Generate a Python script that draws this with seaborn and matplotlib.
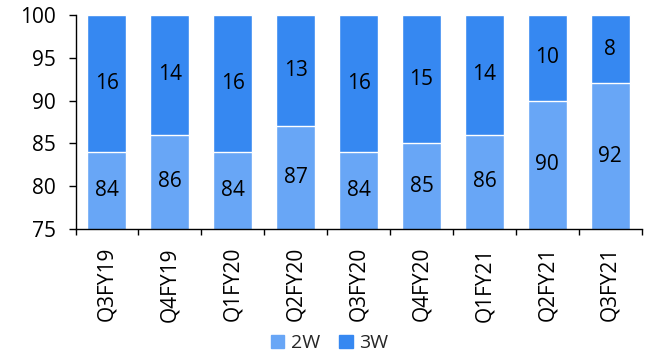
import matplotlib
matplotlib.use("Agg")
import matplotlib.pyplot as plt
from matplotlib.patches import Patch
from matplotlib.ticker import FixedLocator
import numpy as np
import pandas as pd
import seaborn as sns

quarters = ["Q3FY19", "Q4FY19", "Q1FY20", "Q2FY20", "Q3FY20",
            "Q4FY20", "Q1FY21", "Q2FY21", "Q3FY21"]
share_2w = [84, 86, 84, 87, 84, 85, 86, 90, 92]
share_3w = [16, 14, 16, 13, 16, 15, 14, 10, 8]

color_2w = "#68A6F6"
color_3w = "#3688F1"

sns.set_theme(style="white")
plt.rcParams["font.family"] = ["Open Sans", "DejaVu Sans"]

df = pd.DataFrame({"quarter": quarters, "2W": share_2w, "3W": share_3w})
df["total"] = df["2W"] + df["3W"]

fig = plt.figure(figsize=(6.49, 3.58), dpi=100)
ax = fig.add_axes([0.1164, 0.3603, 0.8723, 0.5978])

# stacked bars: full height in 3W colour, 2W segment drawn over it
sns.barplot(data=df, x="quarter", y="total", color=color_3w, width=0.62,
            saturation=1, ax=ax)
sns.barplot(data=df, x="quarter", y="2W", color=color_2w, width=0.62,
            saturation=1, ax=ax)

ymin, ymax = 75, 100
ax.set_ylim(ymin, ymax)
ax.set_xlim(-0.5, len(quarters) - 0.5)
ax.set_yticks(np.arange(75, 101, 5))

for i, (a, b) in enumerate(zip(share_2w, share_3w)):
    ax.text(i, (ymin + a) / 2, f"{a}", ha="center", va="center",
            fontsize=15, color="black")
    ax.text(i, a + b / 2, f"{b}", ha="center", va="center",
            fontsize=15, color="black")

ax.set_xlabel("")
ax.set_ylabel("")
ax.tick_params(axis="x", which="major", length=0, labelsize=15,
               labelrotation=90, pad=13, labelcolor="black")
ax.xaxis.set_minor_locator(FixedLocator(np.arange(-0.5, len(quarters), 1)))
ax.tick_params(axis="x", which="minor", length=4.5, width=1, color="black",
               direction="out", bottom=True)
ax.tick_params(axis="y", length=5, width=1, color="black", direction="out",
               left=True, labelsize=15, pad=9, labelcolor="black")

for side in ["top", "right"]:
    ax.spines[side].set_visible(False)
for side in ["left", "bottom"]:
    ax.spines[side].set_color("black")
    ax.spines[side].set_linewidth(1)

handles = [Patch(color=color_2w, label="2W"), Patch(color=color_3w, label="3W")]
fig.legend(handles=handles, loc="center", bbox_to_anchor=(0.508, 0.042),
           ncol=2, frameon=False, fontsize=14, handlelength=0.67,
           handleheight=0.67, handletextpad=0.35, columnspacing=1.0,
           borderpad=0, borderaxespad=0)

fig.savefig("out.png", dpi=100)
